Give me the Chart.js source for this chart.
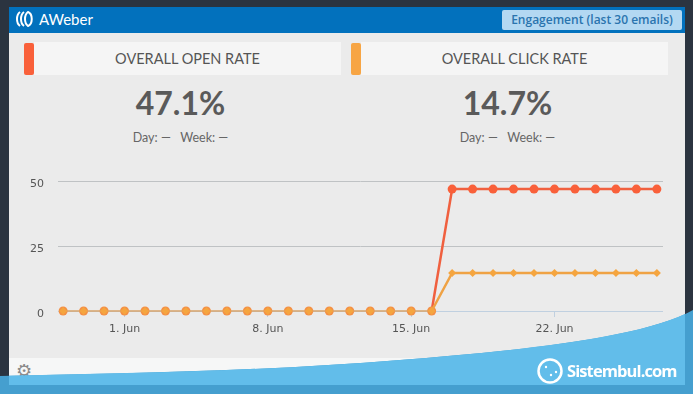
<!DOCTYPE html>
<html>
<head>
<meta charset="utf-8">
<script src="https://cdn.jsdelivr.net/npm/chart.js@4"></script>
<style>
html, body { margin: 0; padding: 0; }
body { width: 693px; height: 394px; overflow: hidden; position: relative; background: #2b3440; font-family: Lato, sans-serif; color: #555; }
div, span, canvas, svg { position: absolute; }
#panel { left: 9px; top: 7px; width: 676px; height: 351px; background: #ebebeb; }
#header { left: 9px; top: 7px; width: 676px; height: 26px; background: #0271bd; }
#brand { left: 39px; top: 10px; font-size: 15px; color: #fff; }
#logo { left: 15px; top: 11px; }
#button { left: 502px; top: 10px; width: 180px; height: 20px; line-height: 20px; background: #b3d8f2; border-radius: 2px; color: #2a74ae; font-size: 12px; font-family: "Open Sans", sans-serif; font-weight: 600; text-align: center; }
.swatch { top: 43px; width: 10px; height: 32px; border-radius: 2px; }
.bar { top: 42px; width: 307px; height: 33px; line-height: 33px; background: #f5f5f5; text-align: center; font-size: 14.5px; color: #555; }
.rate { top: 83px; width: 317px; text-align: center; font-size: 32px; font-weight: 700; line-height: 40px; color: #5a5a5a; }
.delta { top: 130px; width: 317px; text-align: center; font-size: 12.5px; line-height: 15px; color: #666; }
#footer { left: 9px; top: 358px; width: 676px; height: 20px; background: #f6f7f7; }
#gear { left: 16px; top: 361px; font-family: "DejaVu Sans"; font-size: 18px; line-height: 20px; color: #8a8a8a; }
#wave { left: 0; top: 0; }
#mark { left: 567px; top: 358px; font-family: "Open Sans", sans-serif; font-weight: 700; font-size: 16.5px; line-height: 26px; letter-spacing: -0.9px; color: #fff; }
#chartBox { left: 0; top: 161px; width: 693px; height: 184px; }
</style>
</head>
<body>
<div id="panel"></div>
<div id="header"></div>
<svg id="logo" width="20" height="16" viewBox="0 0 20 16">
  <path d="M5 1 C1 4 1 12 5 15" fill="none" stroke="#fff" stroke-width="2"/>
  <path d="M9 1 C5 4 5 12 9 15" fill="none" stroke="#fff" stroke-width="2"/>
  <path d="M13 1 C9 4 9 12 13 15 C18 13 18 3 13 1 Z" fill="none" stroke="#fff" stroke-width="2"/>
</svg>
<div id="brand">AWeber</div>
<div id="button">Engagement (last 30 emails)</div>

<div class="swatch" style="left:24px;background:#f9603a"></div>
<div class="bar" style="left:34px">OVERALL OPEN RATE</div>
<div class="rate" style="left:22px">47.1%</div>
<div class="delta" style="left:22px">Day: —&nbsp;&nbsp;&nbsp;Week: —</div>

<div class="swatch" style="left:351px;background:#f7a544"></div>
<div class="bar" style="left:361px">OVERALL CLICK RATE</div>
<div class="rate" style="left:349px">14.7%</div>
<div class="delta" style="left:349px">Day: —&nbsp;&nbsp;&nbsp;Week: —</div>

<div id="chartBox"><canvas id="engagementChart" width="693" height="184"></canvas></div>

<div id="footer"></div>
<div id="gear">⚙</div>
<svg id="wave" width="693" height="394" viewBox="0 0 693 394">
  <path d="M0 376 C150 373 280 370 400 360 C500 352 640 340 693 310 L693 394 L0 394 Z" fill="#459fcf"/>
  <clipPath id="inner"><rect x="9" y="0" width="676" height="385"/></clipPath>
  <path clip-path="url(#inner)" d="M0 376 C150 373 280 370 400 360 C500 352 640 340 693 310 L693 394 L0 394 Z" fill="#62bdea"/>
  <circle cx="550" cy="371" r="11.5" fill="none" stroke="#fff" stroke-width="2.5"/>
  <circle cx="546" cy="367" r="1.2" fill="#fff"/>
  <circle cx="551" cy="375" r="1.2" fill="#fff"/>
  <circle cx="556" cy="372" r="1.2" fill="#fff"/>
</svg>
<div id="mark">Sistembul.com</div>

<script>
// days since 29 May, one point per day
const days = [0, 1, 2, 3, 4, 5, 6, 7, 8, 9, 10, 11, 12, 13, 14, 15, 16, 17, 18, 19, 20, 21, 22, 23, 24, 25, 26, 27, 28, 29];
const openRate = [0, 0, 0, 0, 0, 0, 0, 0, 0, 0, 0, 0, 0, 0, 0, 0, 0, 0, 0, 47.1, 47.1, 47.1, 47.1, 47.1, 47.1, 47.1, 47.1, 47.1, 47.1, 47.1];
const clickRate = [0, 0, 0, 0, 0, 0, 0, 0, 0, 0, 0, 0, 0, 0, 0, 0, 0, 0, 0, 14.7, 14.7, 14.7, 14.7, 14.7, 14.7, 14.7, 14.7, 14.7, 14.7, 14.7];
const xTicks = [3, 10, 17, 24];
const xTickLabels = ["1. Jun", "8. Jun", "15. Jun", "22. Jun"];
const yTicks = [0, 25, 50];

const points = values => days.map((d, i) => ({ x: d, y: values[i] }));
// flat stretch at zero is drawn thin and tan, as in the original
const flatZero = c => c.p0.parsed.y === 0 && c.p1.parsed.y === 0;

new Chart(document.getElementById("engagementChart"), {
    type: "line",
    data: {
        datasets: [{
            label: "Open rate",
            data: points(openRate),
            borderColor: "#f0603f",
            borderWidth: 2.5,
            pointRadius: 4.5,
            pointBorderWidth: 0,
            pointBackgroundColor: c => c.raw.y === 0 ? "#f48f45" : "#f9603a",
            segment: { borderWidth: c => flatZero(c) ? 1.2 : undefined, borderColor: c => flatZero(c) ? "#d9a36a" : undefined },
            tension: 0,
            clip: false,
            order: 2
        }, {
            label: "Click rate",
            data: points(clickRate),
            borderColor: "#efa244",
            borderWidth: 2.5,
            pointStyle: "rectRot",
            pointRadius: 4,
            pointBorderWidth: 0,
            pointBackgroundColor: "#f5a53f",
            segment: { borderWidth: c => flatZero(c) ? 1.2 : undefined, borderColor: c => flatZero(c) ? "#d9a36a" : undefined },
            tension: 0,
            clip: false,
            order: 1
        }]
    },
    options: {
        responsive: false,
        animation: false,
        layout: { padding: { left: 0, right: 30, top: 0, bottom: 0 } },
        plugins: { legend: { display: false }, tooltip: { enabled: false } },
        scales: {
            x: {
                type: "linear",
                min: -0.25,
                max: 29.3,
                afterBuildTicks: axis => { axis.ticks = xTicks.map(v => ({ value: v })); },
                afterFit: axis => { axis.height = 34; },
                grid: { drawOnChartArea: false, tickLength: 6, tickColor: "#c0d0e0" },
                border: { display: false },
                ticks: {
                    autoSkip: false,
                    maxRotation: 0,
                    padding: 6,
                    color: "#555",
                    font: { family: "DejaVu Sans", size: 11 },
                    callback: v => xTickLabels[xTicks.indexOf(v)]
                }
            },
            y: {
                min: 0,
                max: 50,
                afterBuildTicks: axis => { axis.ticks = yTicks.map(v => ({ value: v })); },
                afterFit: axis => { axis.width = 58; },
                grid: {
                    drawTicks: false,
                    lineWidth: 1,
                    color: c => c.tick.value === 0 ? "#c0d0e0" : "#bfc2c4"
                },
                border: { display: false },
                ticks: {
                    padding: 14,
                    labelOffset: 3,
                    color: "#555",
                    font: { family: "DejaVu Sans", size: 11 }
                }
            }
        }
    }
});
</script>
</body>
</html>
